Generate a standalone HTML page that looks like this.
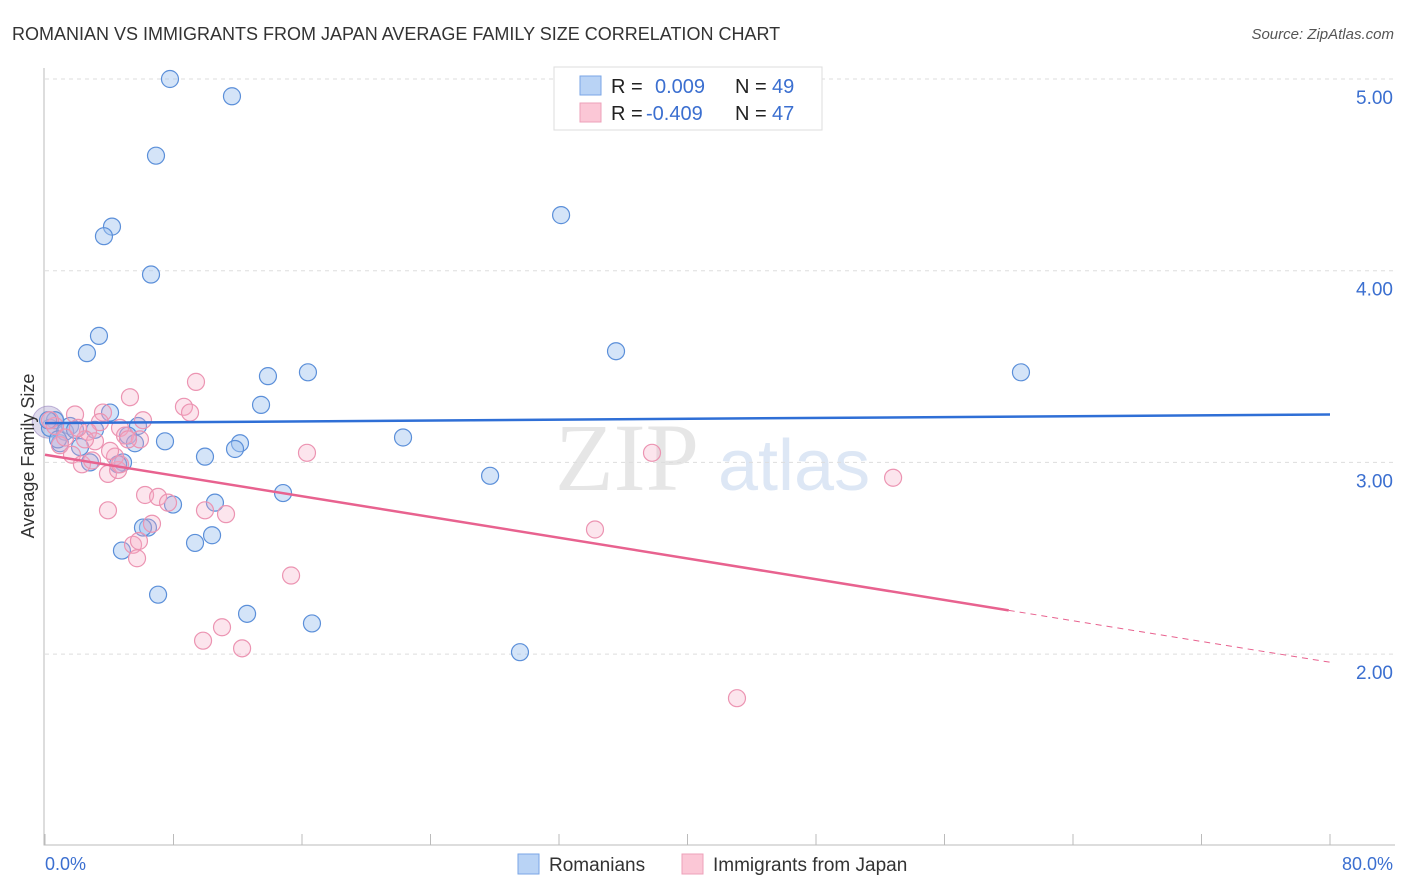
<!DOCTYPE html>
<html><head><meta charset="utf-8"><style>
body{margin:0;background:#fff;font-family:"Liberation Sans",sans-serif;}
svg{display:block}
</style></head><body>
<svg id="chart" width="1406" height="892" xmlns="http://www.w3.org/2000/svg">
<text x="12" y="40" font-size="18" fill="#333">ROMANIAN VS IMMIGRANTS FROM JAPAN AVERAGE FAMILY SIZE CORRELATION CHART</text>
<text x="1394" y="39" font-size="15" fill="#555" text-anchor="end" font-style="italic">Source: ZipAtlas.com</text>
<text x="555" y="490" font-size="96" fill="#e6e6e6" font-family="Liberation Serif,serif">ZIP</text>
<text x="718" y="490" font-size="72" fill="#dde7f5">atlas</text>
<g id="grid"></g>
<g id="axes"></g>
<g id="pts"></g>
<g id="trend"></g>
<text transform="translate(34,456) rotate(-90)" font-size="18" fill="#333" text-anchor="middle">Average Family Size</text>
<text x="45" y="870" font-size="18" fill="#3b6fd0">0.0%</text>
<text x="1393" y="870" font-size="18" fill="#3b6fd0" text-anchor="end">80.0%</text>
<g>
<rect x="554" y="67" width="268" height="63" fill="#fff" stroke="#ddd"/>
<rect x="580" y="76" width="21" height="19" fill="#b9d3f5" stroke="#7aa6e6"/>
<rect x="580" y="103" width="21" height="19" fill="#fbc7d6" stroke="#eea0b9"/>
<text x="611" y="93" font-size="20" fill="#222">R = </text><text x="655" y="93" font-size="20" fill="#3b6fd0">0.009</text>
<text x="735" y="93" font-size="20" fill="#222">N = </text><text x="772" y="93" font-size="20" fill="#3b6fd0">49</text>
<text x="611" y="120" font-size="20" fill="#222">R = </text><text x="646" y="120" font-size="20" fill="#3b6fd0">-0.409</text>
<text x="735" y="120" font-size="20" fill="#222">N = </text><text x="772" y="120" font-size="20" fill="#3b6fd0">47</text>
</g>
<g>
<rect x="518" y="854" width="21" height="20" fill="#b9d3f5" stroke="#7aa6e6"/>
<text x="549" y="871" font-size="19" fill="#333">Romanians</text>
<rect x="682" y="854" width="21" height="20" fill="#fbc7d6" stroke="#eea0b9"/>
<text x="713" y="871" font-size="19" fill="#333">Immigrants from Japan</text>
</g>
</svg>
<script>
const blueX=[7.78,11.64,6.91,32.13,4.17,3.67,6.60,3.36,2.61,35.55,13.88,16.37,60.76,13.45,4.05,0.62,1.56,5.79,5.17,22.29,7.47,5.60,12.14,11.83,2.18,0.93,9.96,4.86,2.80,27.71,14.82,10.58,7.97,6.41,6.10,10.40,9.34,4.79,7.04,12.58,16.62,29.57,0.31,1.25,3.11,4.55,0.81,1.87,0.19];
const blueY=[5.00,4.91,4.60,4.29,4.23,4.18,3.98,3.66,3.57,3.58,3.45,3.47,3.47,3.30,3.26,3.22,3.19,3.19,3.14,3.13,3.11,3.10,3.10,3.07,3.08,3.10,3.03,3.00,3.00,2.93,2.84,2.79,2.78,2.66,2.66,2.62,2.58,2.54,2.31,2.21,2.16,2.01,3.18,3.16,3.17,2.99,3.12,3.17,3.22];
const pinkX=[9.40,5.29,8.65,9.03,3.61,1.87,6.10,4.67,3.42,2.68,3.11,4.98,0.93,1.68,2.30,3.92,4.55,4.36,16.31,37.79,52.80,6.23,7.04,7.66,9.96,11.27,3.92,6.66,34.24,5.48,5.85,5.73,15.32,11.02,9.84,12.27,43.08,0.62,1.25,0.31,2.49,4.05,5.91,2.05,2.93,4.67,5.17];
const pinkY=[3.42,3.34,3.29,3.26,3.26,3.25,3.22,3.18,3.21,3.16,3.11,3.14,3.09,3.04,2.99,2.94,2.96,3.03,3.05,3.05,2.92,2.83,2.82,2.79,2.75,2.73,2.75,2.68,2.65,2.57,2.59,2.50,2.41,2.14,2.07,2.03,1.77,3.19,3.13,3.22,3.12,3.06,3.12,3.18,3.01,2.99,3.12];
const yTicks=[5,4,3,2];
const yTickLabels=["5.00","4.00","3.00","2.00"];
const blueTrend=[3.205,0.00056];
const pinkTrend=[3.04,-0.01353];
const pinkSolidEnd=60;
const ns="http://www.w3.org/2000/svg";
const X=v=>45+v/80*1285, Y=v=>79+(5-v)*191.7;
function mk(t,a,p){const e=document.createElementNS(ns,t);for(const k in a)e.setAttribute(k,a[k]);p.appendChild(e);return e;}
const grid=document.getElementById('grid'),axes=document.getElementById('axes'),pts=document.getElementById('pts'),tr=document.getElementById('trend');
yTicks.forEach((t,i)=>{
 const l=mk('line',{x1:45,x2:1395,y1:Y(t),y2:Y(t),stroke:'#ddd','stroke-dasharray':'4,4'},grid);
 
 
 const tx=mk('text',{x:1393,y:Y(t)+25,'font-size':19,fill:'#3b6fd0','text-anchor':'end'},grid);
 tx.textContent=yTickLabels[i];
 
 
});
const ax=mk('path',{d:'M44,68 V845 H1395',stroke:'#bbb',fill:'none'},axes);


for(let i=0;i<=10;i++){
 const t=mk('line',{x1:X(i*8),x2:X(i*8),y1:834,y2:845,stroke:'#bbb'},axes);
 
 
}
const b0=mk('circle',{cx:X(0.2),cy:Y(3.21),r:16,fill:'rgba(160,150,200,0.35)',stroke:'rgba(150,130,190,0.6)'},pts);


blueX.forEach((x,i)=>{
 const c=mk('circle',{cx:X(x),cy:Y(blueY[i]),r:8.5,fill:'rgba(160,196,240,0.45)',stroke:'#5b8fd9','stroke-width':1.2},pts);
 
 
});
pinkX.forEach((x,i)=>{
 const c=mk('circle',{cx:X(x),cy:Y(pinkY[i]),r:8.5,fill:'rgba(244,170,196,0.3)',stroke:'#ec94b2','stroke-width':1.2},pts);
 
 
});
const bl=mk('line',{x1:X(0),x2:X(80),y1:Y(blueTrend[0]),y2:Y(blueTrend[0]+80*blueTrend[1]),stroke:'#2f6fd6','stroke-width':2.5},tr);


const pl=mk('line',{x1:X(0),x2:X(pinkSolidEnd),y1:Y(pinkTrend[0]),y2:Y(pinkTrend[0]+pinkSolidEnd*pinkTrend[1]),stroke:'#e8628f','stroke-width':2.5},tr);


const pd=mk('line',{x1:X(pinkSolidEnd),x2:X(80),y1:Y(pinkTrend[0]+pinkSolidEnd*pinkTrend[1]),y2:Y(pinkTrend[0]+80*pinkTrend[1]),stroke:'#e8628f','stroke-width':1,'stroke-dasharray':'6,5'},tr);


</script>
</body></html>
